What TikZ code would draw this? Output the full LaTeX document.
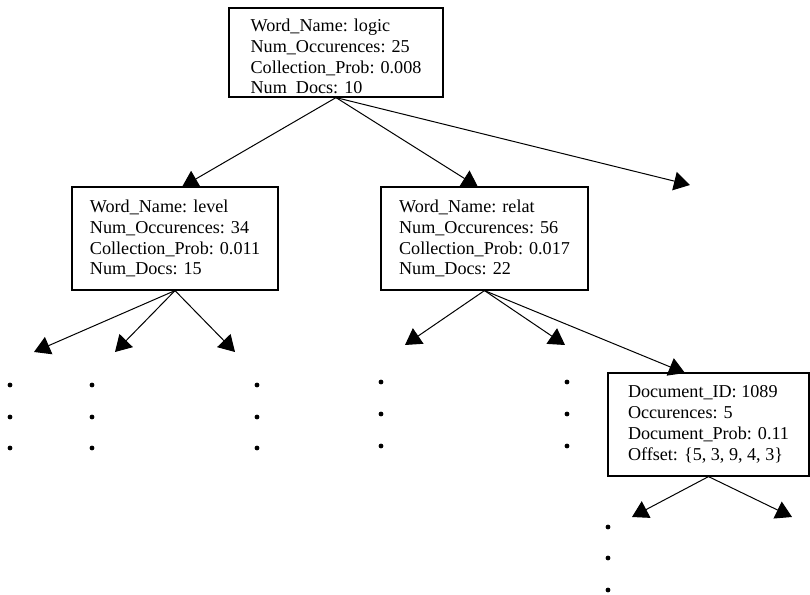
\documentclass[tikz,border=0pt]{standalone}
\usepackage{fontspec}
\setmainfont{Liberation Serif}
\usepackage{tikz}
\usetikzlibrary{arrows.meta}

\begin{document}
\begin{tikzpicture}[x=0.75pt,y=-0.75pt,>={Triangle[length=12pt,width=14pt]},
                    line width=0.75pt]
  \tikzstyle{wordbox} = [
    rectangle, draw, line width=0.9pt, align=left, inner sep=0pt,
    font=\fontsize{13.6}{15.6}\selectfont, minimum height=77.25pt]
  \useasboundingbox (0,0) rectangle (810,595);
  \node[wordbox, minimum width=160.5pt, minimum height=66.75pt] (logic) at (336,52.5) {\rule{0pt}{17pt}Word\_Name: logic\\Num\_Occurences: 25\\Collection\_Prob: 0.008\\Num\phantom{\_}Docs: 10};
  \node[wordbox, minimum width=154.5pt] (level) at (175,238.5) {Word\_Name: level\\Num\_Occurences: 34\\Collection\_Prob: 0.011\\Num\_Docs: 15};
  \node[wordbox, minimum width=155.25pt] (relat) at (484.5,238.5) {Word\_Name: relat\\Num\_Occurences: 56\\Collection\_Prob: 0.017\\Num\_Docs: 22};
  \node[wordbox, minimum width=150.75pt] (doc) at (708.5,424.5) {Document\_ID: 1089\\Occurences: 5\\Document\_Prob: 0.11\\Offset: \{5, 3, 9, 4, 3\}};
  \coordinate (tolevel) at (182,187);
  \coordinate (torelat) at (478,187);
  \coordinate (tofar) at (690,185);
  \coordinate (lv1) at (34,352);
  \coordinate (lv2) at (115,352);
  \coordinate (lv3) at (235,352);
  \coordinate (rl1) at (405,345);
  \coordinate (rl2) at (565,345);
  \coordinate (todoc) at (685,373);
  \coordinate (dc1) at (632,517);
  \coordinate (dc2) at (792,517);
  \path[->]
        (logic.south) edge (tolevel)
        (logic.south) edge (torelat)
        (logic.south) edge (tofar)
        (level.south) edge (lv1)
        (level.south) edge (lv2)
        (level.south) edge (lv3)
        (relat.south) edge (rl1)
        (relat.south) edge (rl2)
        (relat.south) edge (todoc)
        (doc.south) edge (dc1)
        (doc.south) edge (dc2);
  % the dotted continuations
  \fill (10,385) circle (1.8pt) (10,417) circle (1.8pt) (10,448) circle (1.8pt);
  \fill (92,385) circle (1.8pt) (92,417) circle (1.8pt) (92,448) circle (1.8pt);
  \fill (257,385) circle (1.8pt) (257,417) circle (1.8pt) (257,448) circle (1.8pt);
  \fill (381,382) circle (1.8pt) (381,414) circle (1.8pt) (381,446) circle (1.8pt);
  \fill (567,382) circle (1.8pt) (567,414) circle (1.8pt) (567,446) circle (1.8pt);
  \fill (608,527) circle (1.8pt) (608,558) circle (1.8pt) (608,590) circle (1.8pt);
\end{tikzpicture}
\end{document}
